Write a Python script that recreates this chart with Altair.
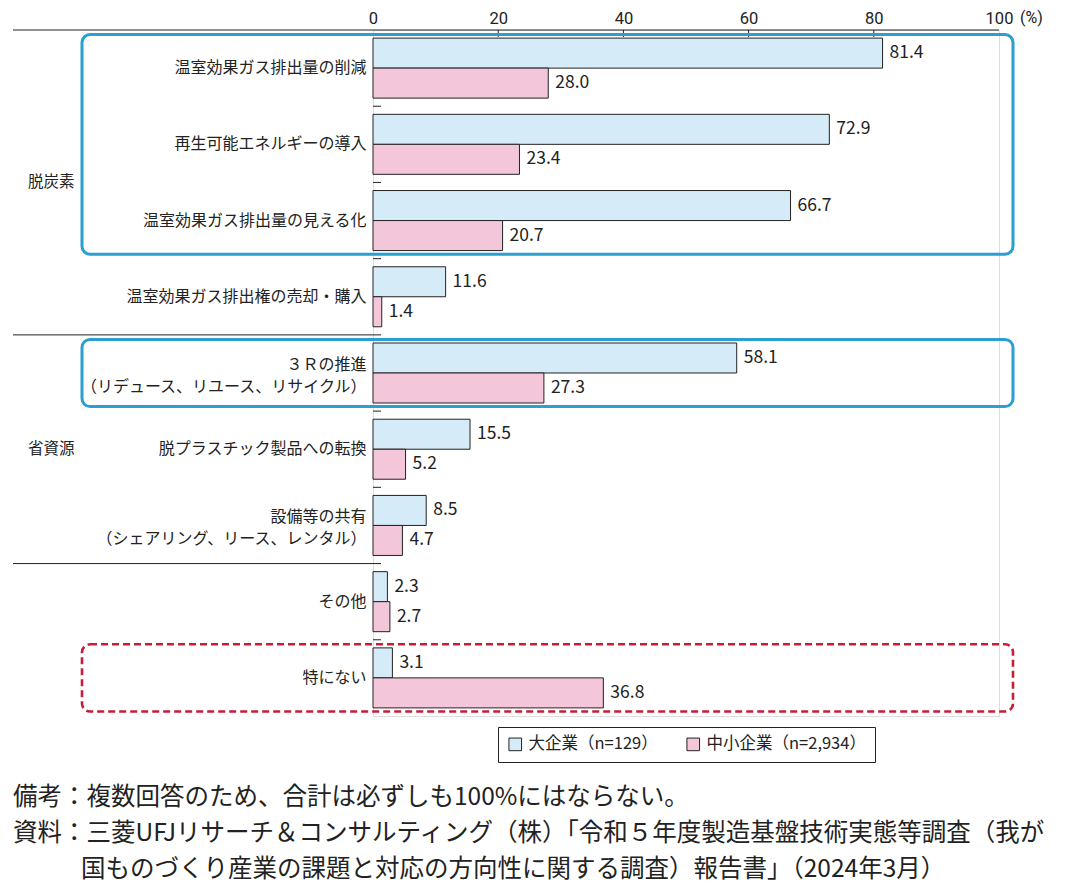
import altair as alt
import pandas as pd

categories = [
    "温室効果ガス排出量の削減",
    "再生可能エネルギーの導入",
    "温室効果ガス排出量の見える化",
    "温室効果ガス排出権の売却・購入",
    "３Ｒの推進|（リデュース、リユース、リサイクル）",
    "脱プラスチック製品への転換",
    "設備等の共有|（シェアリング、リース、レンタル）",
    "その他",
    "特にない",
]
large = [81.4, 72.9, 66.7, 11.6, 58.1, 15.5, 8.5, 2.3, 3.1]
sme = [28.0, 23.4, 20.7, 1.4, 27.3, 5.2, 4.7, 2.7, 36.8]
series = ["大企業（n=129）", "中小企業（n=2,934）"]
colors = ["#d5ecf8", "#f4c6d9"]
x_ticks = [0, 20, 40, 60, 80, 100]
groups = ["脱炭素", "省資源"]
group_anchor = [categories[2], categories[5]]
group_band = [0.0, 0.5]
separators = [categories[4], categories[7]]
notes = [
    "備考：複数回答のため、合計は必ずしも100%にはならない。",
    "資料：三菱UFJリサーチ＆コンサルティング（株）「令和５年度製造基盤技術実態等調査（我が",
    "国ものづくり産業の課題と対応の方向性に関する調査）報告書」（2024年3月）",
]

W, H = 626, 686
N = len(categories)
BAND = H / N
FONT = "Noto Sans CJK JP"
NUMFONT = "Roboto"
INK = "#222222"

rows = []
for c, a, b in zip(categories, large, sme):
    rows.append({"cat": c, "series": series[0], "value": a})
    rows.append({"cat": c, "series": series[1], "value": b})
df = pd.DataFrame(rows)

yaxis = alt.Axis(
    title=None, ticks=False, domain=False, labelFont=FONT, labelFontSize=16,
    labelColor=INK, labelPadding=7, labelLimit=0, labelLineHeight=22,
    labelExpr="split(datum.label, '|')",
    labelOffset={"condition": {"test": "indexof(datum.label, '|') >= 0", "value": -8}, "value": 0},
)
yscale = alt.Scale(domain=categories, paddingInner=0, paddingOuter=0)
xaxis = alt.Axis(
    title=None, orient="top", values=x_ticks, ticks=False, domain=False, grid=False,
    labelFont=NUMFONT, labelFontSize=16.5, labelColor=INK, labelPadding=4,
    labelFlush=False,
)
xscale = alt.Scale(domain=[0, 100], nice=False)


def Y(band=0.5):
    return alt.Y("cat:N", sort=categories, scale=yscale, axis=yaxis, bandPosition=band)


def X(field="value:Q"):
    return alt.X(field, scale=xscale, axis=xaxis)


yoff = alt.YOffset("series:N", sort=series,
                   scale=alt.Scale(domain=series, paddingInner=0, paddingOuter=0.27))

bars = alt.Chart(df).mark_bar(stroke=INK, strokeWidth=1).encode(
    y=Y(), x=X(), yOffset=yoff,
    color=alt.Color("series:N", sort=series,
                    scale=alt.Scale(domain=series, range=colors),
                    legend=alt.Legend(
                        title=None, orient="none", legendX=125, legendY=697,
                        direction="horizontal", columns=2, columnPadding=26,
                        symbolType="square", symbolSize=160, symbolStrokeColor=INK,
                        symbolStrokeWidth=1, labelFont=FONT, labelFontSize=16.5,
                        labelColor=INK, strokeColor=INK, padding=9, labelOffset=5,
                    )),
)

labels = alt.Chart(df).mark_text(
    align="left", baseline="middle", dx=7, font=FONT, fontSize=17.5, color=INK
).encode(y=Y(), x=X(), yOffset=yoff, text=alt.Text("value:Q", format=".1f"))

bdf = pd.DataFrame({"cat": categories[1:]})
inner_ticks = alt.Chart(bdf).mark_rule(color=INK, strokeWidth=1).encode(
    y=Y(0.0), x=alt.value(0), x2=alt.value(8)
)
sdf = pd.DataFrame({"cat": separators})
sep_lines = alt.Chart(sdf).mark_rule(color=INK, strokeWidth=1).encode(
    y=Y(0.0), x=alt.value(-360), x2=alt.value(0)
)
top_line = alt.Chart(pd.DataFrame({"cat": [categories[0]]})).mark_rule(
    color=INK, strokeWidth=1).encode(y=Y(0.0), x=alt.value(-360), x2=alt.value(W))

tdf = pd.DataFrame({"t": x_ticks[1:-1]})
top_ticks = alt.Chart(tdf).mark_rule(color=INK, strokeWidth=1).encode(
    x=X("t:Q"), y=alt.value(0), y2=alt.value(7)
)
pct = alt.Chart(pd.DataFrame({"t": [100]})).mark_text(
    text="(%)", align="left", baseline="bottom", dx=21, font=NUMFONT, fontSize=16, color=INK
).encode(x=X("t:Q"), y=alt.value(-4))

glayers = []
for gname, anc, band in zip(groups, group_anchor, group_band):
    glayers.append(
        alt.Chart(pd.DataFrame({"cat": [anc], "g": [gname]})).mark_text(
            align="left", baseline="middle", font=FONT, fontSize=15.5, color=INK
        ).encode(y=Y(band), x=alt.value(-345), text="g:N")
    )

box_l, box_r = -291, 640
boxes = []
for (i0, i1, col, dash) in [(0, 2, "#2a9fd0", None), (4, 4, "#2a9fd0", None), (8, 8, "#c41e3a", [7, 4])]:
    kw = dict(filled=False, stroke=col, strokeWidth=3, cornerRadius=8)
    if dash:
        kw["strokeDash"] = dash
        kw["strokeWidth"] = 2.6
    boxes.append(
        alt.Chart(pd.DataFrame({"a": [0]})).mark_rect(**kw).encode(
            x=alt.value(box_l), x2=alt.value(box_r),
            y=alt.value(i0 * BAND + 4.5), y2=alt.value((i1 + 1) * BAND - 4.5),
        )
    )

note_layers = []
for txt, nx, ny in zip(notes, [-360, -360, -292], [775, 811, 847]):
    note_layers.append(
        alt.Chart(pd.DataFrame({"t": [txt]})).mark_text(
            align="left", baseline="alphabetic", font=FONT, fontSize=24.5, color=INK
        ).encode(text="t:N", x=alt.value(nx), y=alt.value(ny))
    )

chart = alt.layer(
    bars, labels, inner_ticks, sep_lines, top_line, top_ticks, pct, *glayers, *boxes, *note_layers
).properties(
    width=W, height=H, padding={"left": 4, "top": 2, "right": 0, "bottom": 4}
).configure_view(stroke=INK, strokeWidth=1).configure(background="white")

chart.save("out.html", embed_options={"renderer": "svg", "actions": False})
